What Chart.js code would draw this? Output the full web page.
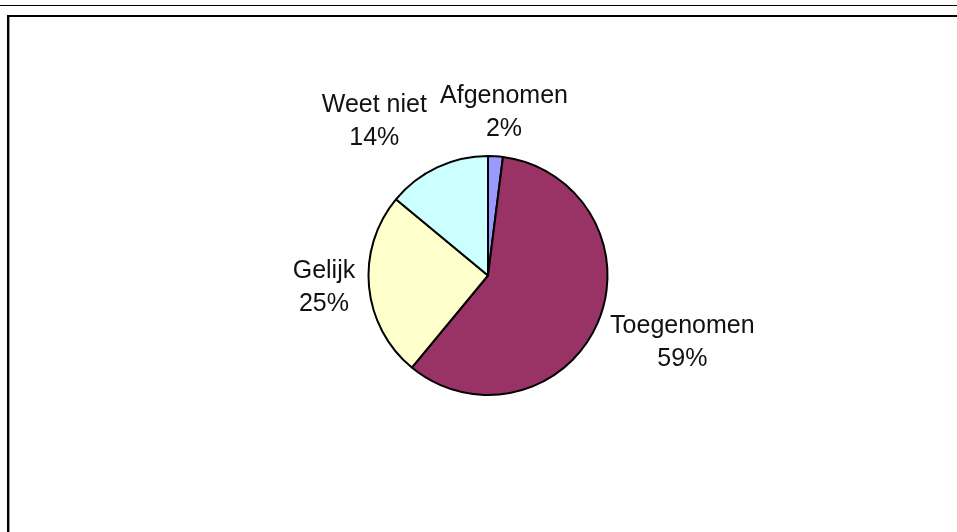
<!DOCTYPE html>
<html>
<head>
<meta charset="utf-8">
<script src="https://cdn.jsdelivr.net/npm/chart.js@4/dist/chart.umd.min.js"></script>
<style>
  html, body { margin: 0; padding: 0; width: 957px; height: 532px; overflow: hidden; background: #fff; }
  #topline { position: absolute; left: 0; top: 5px; width: 957px; height: 0; border-top: 1.5px solid #000; }
  #frame { position: absolute; left: 7px; top: 15px; width: 1000px; height: 600px;
           border-top: 2px solid #000; border-left: 2px solid #000; box-shadow: inset 1px 0 0 #9a9a9a; }
  #wrap { position: absolute; left: 0; top: 0; width: 957px; height: 532px; }
</style>
</head>
<body>
<div id="topline"></div>
<div id="frame"></div>
<div id="wrap"><canvas id="c" width="957" height="532"></canvas></div>
<script>
// Data
const categories = ["Afgenomen", "Toegenomen", "Gelijk", "Weet niet"];
const values = [2, 59, 25, 14];
const sliceColors = ["#9999FF", "#993366", "#FFFFCC", "#CCFFFF"];

const FONT_SIZE = 25;
const LINE_GAP = 33;

const labelPlugin = {
  id: 'outsideLabels',
  afterDatasetsDraw(chart, args, opts) {
    const ctx = chart.ctx;
    const meta = chart.getDatasetMeta(0);
    const total = values.reduce((a, b) => a + b, 0);
    ctx.save();
    ctx.font = FONT_SIZE + 'px "Liberation Sans", Arial, sans-serif';
    ctx.fillStyle = '#111';
    ctx.textAlign = 'center';
    ctx.textBaseline = 'alphabetic';
    const cap = 0.716 * FONT_SIZE;
    meta.data.forEach((arc, i) => {
      const mid = (arc.startAngle + arc.endAngle) / 2;
      const dx = Math.cos(mid), dy = Math.sin(mid);
      const line1 = categories[i];
      const line2 = Math.round(values[i] / total * 100) + '%';
      const w = Math.max(ctx.measureText(line1).width, ctx.measureText(line2).width);
      const h = LINE_GAP + cap;
      const r = arc.outerRadius + opts.gap;
      const nudge = opts.nudge[i];
      const cx = arc.x + dx * r + dx * w / 2 + nudge[0];
      const cy = arc.y + dy * r + dy * h / 2 + nudge[1];
      const c1 = cy - LINE_GAP / 2, c2 = cy + LINE_GAP / 2;
      ctx.fillText(line1, cx, c1 + cap / 2);
      ctx.fillText(line2, cx, c2 + cap / 2);
    });
    ctx.restore();
  }
};

new Chart(document.getElementById('c'), {
  type: 'pie',
  data: {
    labels: categories,
    datasets: [{
      data: values,
      backgroundColor: sliceColors,
      borderColor: '#000',
      borderWidth: 2,
      hoverOffset: 0
    }]
  },
  options: {
    responsive: false,
    animation: false,
    events: [],
    layout: { padding: { top: 155, bottom: 136, left: 367, right: 348 } },
    plugins: {
      legend: { display: false },
      tooltip: { enabled: false },
      outsideLabels: { gap: 8, nudge: [[4, -12], [11, 4], [-6, -4], [-37, -18]] }
    }
  },
  plugins: [labelPlugin]
});
</script>
</body>
</html>
